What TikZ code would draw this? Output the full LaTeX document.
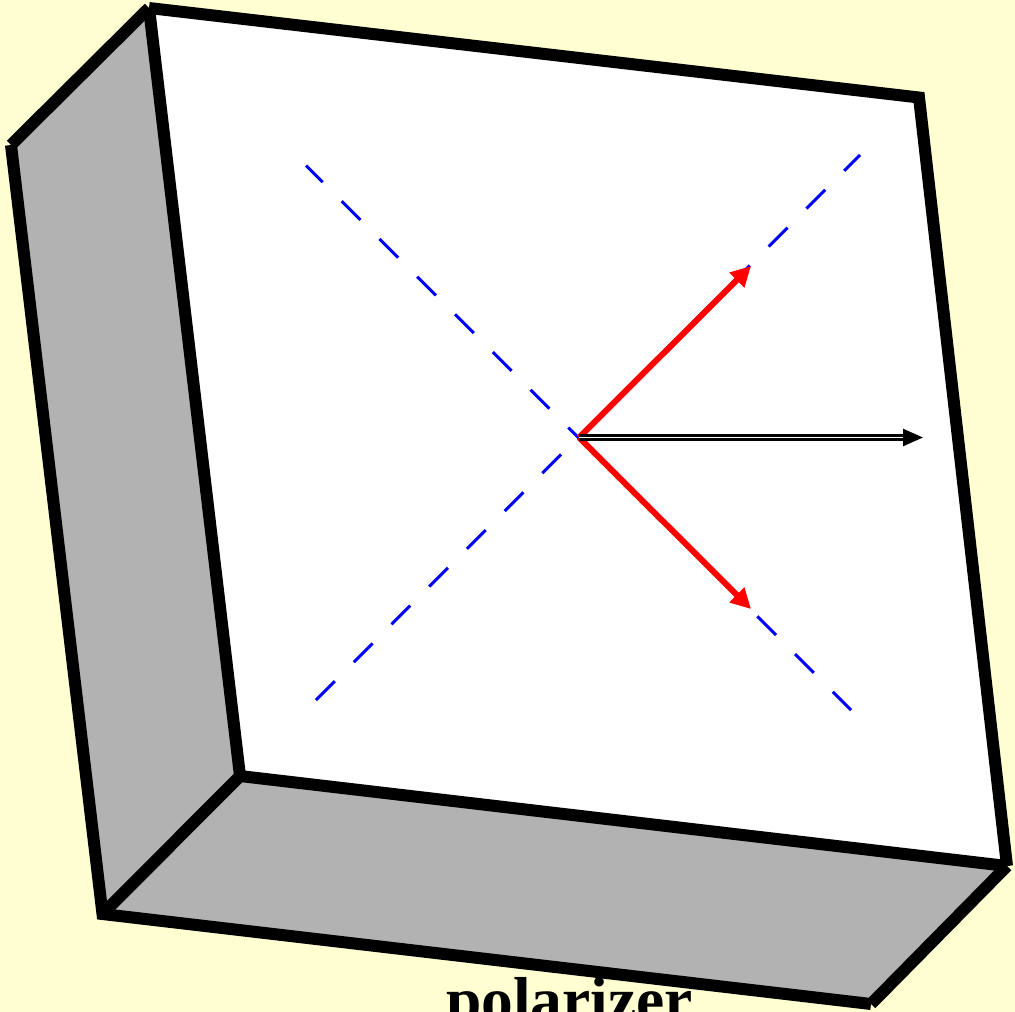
\documentclass[tikz,border=0pt]{standalone}
\usepackage{fontspec}
\setmainfont{Liberation Serif}
\usetikzlibrary{arrows.meta}
\definecolor{paper}{rgb}{1,1,0.82}
\definecolor{side}{gray}{0.7}
\tikzset{
  edgeline/.style={black,line width=12pt,line cap=butt,miter limit=10},
  axisline/.style={blue,line width=3pt,dash pattern=on 26.6pt off 26.8pt},
  redarrow/.style={red,line width=6pt,-{Triangle[length=20pt,width=20pt]}},
  blackarrow/.style={black,line width=2.6pt,double=white,double distance=1pt,-{Triangle[length=20pt,width=17pt,fill=black]}},
  caption/.style={font=\fontsize{63.5}{63.5}\selectfont\bfseries,anchor=base,inner sep=0pt}
}
\begin{document}
\begin{tikzpicture}[x=1pt,y=-1pt]
\useasboundingbox (0,0) rectangle (1015,1012);
\fill[paper] (0,0) rectangle (1015,1012);
\coordinate (A) at (149,8);
\coordinate (B) at (919,97.5);
\coordinate (C) at (1007,866);
\coordinate (D) at (240,776);
\coordinate (E) at (11,145);
\coordinate (F) at (102.5,914);
\coordinate (G) at (871,1004);
\coordinate (O) at (579,437.5);
\coordinate (P1) at (306,165.5);
\coordinate (P2) at (851,710);
\coordinate (Q1) at (316,700);
\coordinate (Q2) at (860,155);
\coordinate (R1) at (751,266);
\coordinate (R2) at (751,609);
\coordinate (K) at (923,437.5);
\fill[white] (A) -- (B) -- (C) -- (D) -- cycle;
\fill[side] (E) -- (A) -- (D) -- (F) -- cycle;
\fill[side] (F) -- (D) -- (C) -- (G) -- cycle;
\draw[axisline,dash phase=3pt] (P1) -- (P2);
\draw[axisline] (Q1) -- (Q2);
\draw[redarrow] (O) -- (R1);
\draw[redarrow] (O) -- (R2);
\draw[blackarrow] (O) -- (K);
\draw[edgeline] (A) -- (B) -- (C);
\draw[edgeline] (C) -- (D) -- (A);
\draw[edgeline] (E) -- (A);
\draw[edgeline] (E) -- (F) -- (G);
\draw[edgeline] (F) -- (D);
\draw[edgeline] (G) -- (C);
\node[caption] (label) at (569.5,1021) {polarizer};
\end{tikzpicture}
\end{document}
